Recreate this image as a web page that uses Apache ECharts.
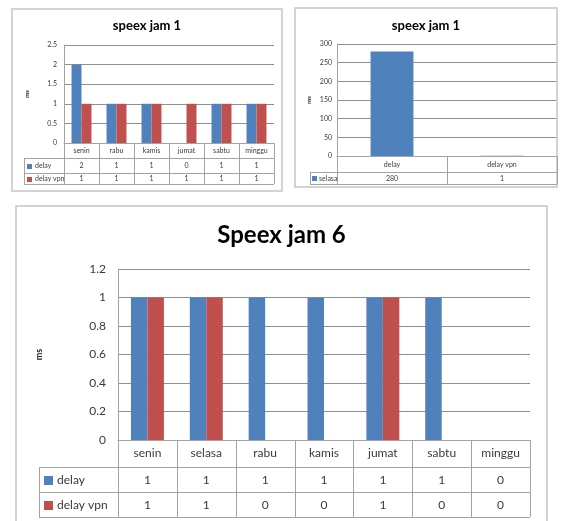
<!DOCTYPE html>
<html><head><meta charset="utf-8">
<script src="https://cdn.jsdelivr.net/npm/echarts@6/dist/echarts.min.js"></script>
<style>html,body{margin:0;padding:0;background:#fff}#c{width:564px;height:521px}</style>
</head><body><div id="c"></div>
<script>
// ---- data ----
const cats1 = ['senin', 'rabu', 'kamis', 'jumat', 'sabtu', 'minggu'];
const delay1 = [2, 1, 1, 0, 1, 1];
const vpn1 = [1, 1, 1, 1, 1, 1];
const cats2 = ['delay', 'delay vpn'];
const selasa2 = [280, 1];
const cats3 = ['senin', 'selasa', 'rabu', 'kamis', 'jumat', 'sabtu', 'minggu'];
const delay3 = [1, 1, 1, 1, 1, 1, 0];
const vpn3 = [1, 1, 0, 0, 1, 0, 0];
const yTicks1 = [0, 0.5, 1, 1.5, 2, 2.5];
const yTicks2 = [0, 50, 100, 150, 200, 250, 300];
const yTicks3 = [0, 0.2, 0.4, 0.6, 0.8, 1, 1.2];
const titles = ['speex jam 1', 'speex jam 1', 'Speex jam 6'];

const FONT = 'Lato, "Open Sans", sans-serif';
const BLUE = '#4F81BD', RED = '#C0504D';
const TXT = '#3a3a3a', GRIDC = '#8f8f8f', TBL = '#a3a3a3';

const chart = echarts.init(document.getElementById('c'));
const G = [
  {left: 64, top: 45, width: 210, height: 98},
  {left: 337, top: 44, width: 220, height: 112},
  {left: 118, top: 269, width: 412, height: 171}
];
const yCfg = [
  {ticks: yTicks1, fs: 7, margin: 7, nameGap: 34, nameFs: 6},
  {ticks: yTicks2, fs: 7, margin: 5, nameGap: 25, nameFs: 6},
  {ticks: yTicks3, fs: 12, margin: 12, nameGap: 74, nameFs: 9}
];
const xCfg = [
  {cats: cats1, fs: 7, margin: 4},
  {cats: cats2, fs: 7, margin: 5},
  {cats: cats3, fs: 12, margin: 7}
];

const option = {
  animation: false,
  grid: G.map(g => Object.assign({containLabel: false}, g)),
  xAxis: xCfg.map((c, i) => ({
    type: 'category', gridIndex: i, data: c.cats,
    axisLine: {lineStyle: {color: TBL, width: 1}},
    axisTick: {show: false},
    axisLabel: {fontSize: c.fs, color: TXT, margin: c.margin, fontFamily: FONT, interval: 0}
  })),
  yAxis: yCfg.map((c, i) => ({
    type: 'value', gridIndex: i, min: c.ticks[0], max: c.ticks[c.ticks.length - 1],
    interval: c.ticks[1] - c.ticks[0],
    axisLine: {show: true, lineStyle: {color: TBL}},
    axisTick: {show: false},
    splitLine: {lineStyle: {color: GRIDC, width: 1}},
    axisLabel: {fontSize: c.fs, color: TXT, margin: c.margin, fontFamily: FONT},
    name: 'ms', nameLocation: 'middle', nameRotate: 90, nameGap: c.nameGap,
    nameTextStyle: {fontSize: c.nameFs, fontWeight: 'bold', color: '#222', fontFamily: FONT}
  })),
  series: [
    {name: 'delay', type: 'bar', xAxisIndex: 0, yAxisIndex: 0, data: delay1, barGap: '0%', barCategoryGap: '43%', itemStyle: {color: BLUE}},
    {name: 'delay vpn', type: 'bar', xAxisIndex: 0, yAxisIndex: 0, data: vpn1, barGap: '0%', barCategoryGap: '43%', itemStyle: {color: RED}},
    {name: 'selasa', type: 'bar', xAxisIndex: 1, yAxisIndex: 1, data: selasa2, barCategoryGap: '61%', itemStyle: {color: BLUE}},
    {name: 'delay', type: 'bar', xAxisIndex: 2, yAxisIndex: 2, data: delay3, barGap: '0%', barCategoryGap: '44%', itemStyle: {color: BLUE}},
    {name: 'delay vpn', type: 'bar', xAxisIndex: 2, yAxisIndex: 2, data: vpn3, barGap: '0%', barCategoryGap: '44%', itemStyle: {color: RED}}
  ]
};
chart.setOption(option);

// ---- decorations: chart frames, titles, data tables ----
const gfx = [];
const frames = [
  {x: 12, y: 9, w: 270, h: 182},
  {x: 295, y: 8, w: 262, h: 179},
  {x: 16, y: 206, w: 531, h: 330}
];
frames.forEach(f => gfx.push({type: 'rect', shape: {x: f.x, y: f.y, width: f.w, height: f.h},
  style: {fill: null, stroke: '#d3d3d3', lineWidth: 2}, z: 0}));
const titleCfg = [
  {y: 26, fs: 13}, {y: 26, fs: 13}, {y: 235, fs: 24}
];
titleCfg.forEach((t, i) => {
  const f = frames[i];
  gfx.push({type: 'text', x: f.x + f.w / 2, y: t.y, style: {text: titles[i], fontSize: t.fs, fontWeight: 'bold',
    fontFamily: FONT, fill: '#000', align: 'center', verticalAlign: 'middle'}});
});

function line(x1, y1, x2, y2) {
  gfx.push({type: 'line', shape: {x1: x1, y1: y1, x2: x2, y2: y2}, style: {stroke: TBL, lineWidth: 1}, z: 5});
}
function table(idx, cats, rows, geo) {
  const g = G[idx];
  const top = g.top + g.height;
  const right = g.left + g.width;
  const catW = g.width / cats.length;
  let y = top + geo.rowH[0];
  const bottom = top + geo.rowH.reduce((a, b) => a + b, 0);
  // horizontal lines
  const ys = [y];
  rows.forEach((r, k) => { ys.push(ys[ys.length - 1] + geo.rowH[k + 1]); });
  ys.forEach(yy => line(geo.legendLeft, Math.round(yy) + 0.5, right, Math.round(yy) + 0.5));
  // vertical lines
  for (let i = 0; i <= cats.length; i++) {
    const x = Math.round(g.left + i * catW) + 0.5;
    line(x, top, x, bottom);
  }
  line(geo.legendLeft + 0.5, ys[0], geo.legendLeft + 0.5, bottom);
  // cells
  rows.forEach((r, k) => {
    const cy = (ys[k] + ys[k + 1]) / 2 + 0.5;
    gfx.push({type: 'rect', shape: {x: geo.legendLeft + geo.sqOff, y: Math.round(cy - geo.sq / 2), width: geo.sq, height: geo.sq},
      style: {fill: r.color}, z: 6});
    gfx.push({type: 'text', x: geo.legendLeft + geo.sqOff + geo.sq + geo.txtGap, y: cy,
      style: {text: r.name, fontSize: geo.fs, fontFamily: FONT, fill: TXT, verticalAlign: 'middle', align: 'left'}, z: 6});
    r.data.forEach((v, i) => {
      const cx = chart.convertToPixel({xAxisIndex: idx}, cats[i]);
      gfx.push({type: 'text', x: cx, y: cy,
        style: {text: String(v), fontSize: geo.fs, fontFamily: FONT, fill: TXT, align: 'center', verticalAlign: 'middle'}, z: 6});
    });
  });
}
table(0, cats1, [{name: 'delay', color: BLUE, data: delay1}, {name: 'delay vpn', color: RED, data: vpn1}],
  {legendLeft: 24, rowH: [15, 15, 11], fs: 7, sq: 5, sqOff: 3, txtGap: 3});
table(1, cats2, [{name: 'selasa', color: BLUE, data: selasa2}],
  {legendLeft: 310, rowH: [16, 12], fs: 7, sq: 5, sqOff: 2, txtGap: 2});
table(2, cats3, [{name: 'delay', color: BLUE, data: delay3}, {name: 'delay vpn', color: RED, data: vpn3}],
  {legendLeft: 39, rowH: [27, 25, 25], fs: 12, sq: 9, sqOff: 5, txtGap: 4});

chart.setOption({graphic: {elements: gfx}});
</script>
</body></html>
